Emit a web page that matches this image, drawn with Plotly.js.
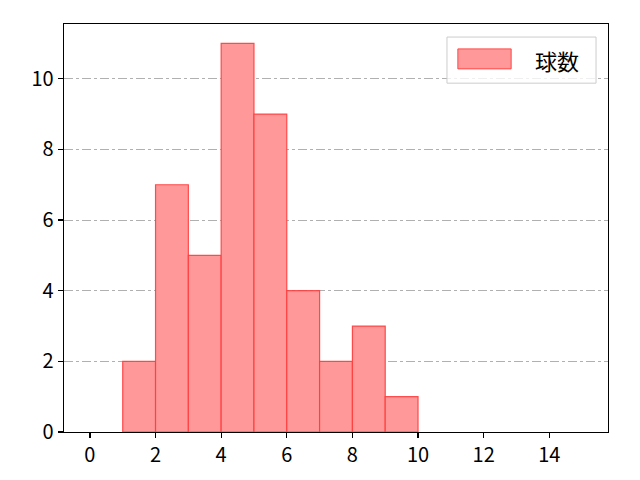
<!DOCTYPE html>
<html>
<head>
<meta charset="utf-8">
<script src="https://cdn.plot.ly/plotly-3.0.1.min.js"></script>
<style>
  html, body { margin: 0; padding: 0; background: #fff; }
  #plot { width: 640px; height: 480px; }
</style>
</head>
<body>
<div id="plot"></div>
<script>
// histogram bins (left edges) and counts
const binStarts = [1, 2, 3, 4, 5, 6, 7, 8, 9];
const counts = [2, 7, 5, 11, 9, 4, 2, 3, 1];
const seriesName = '球数';
const xTicks = [0, 2, 4, 6, 8, 10, 12, 14];
const yTicks = [0, 2, 4, 6, 8, 10];

const barFill = 'rgb(255, 153, 153)';
const barEdge = 'rgba(255, 60, 60, 0.9)';

const trace = {
  x: binStarts.map(b => b + 0.5),
  y: counts,
  width: binStarts.map(() => 1),
  type: 'bar',
  name: seriesName,
  marker: {
    color: barFill,
    line: { color: barEdge, width: 1.2 },
  },
  showlegend: false,
};

const axisFont = { family: 'Noto Sans CJK JP, sans-serif', size: 20, color: '#000' };

// matplotlib-style legend, drawn in plot-area coordinates
const legendShapes = [
  {
    type: 'rect', xref: 'paper', yref: 'paper', layer: 'above',
    x0: 0.704, x1: 0.978, y0: 0.855, y1: 0.968,
    fillcolor: 'rgba(255,255,255,0.8)',
    line: { color: '#cccccc', width: 1 },
  },
  {
    type: 'rect', xref: 'paper', yref: 'paper', layer: 'above',
    x0: 0.724, x1: 0.822, y0: 0.890, y1: 0.939,
    fillcolor: barFill,
    line: { color: barEdge, width: 1 },
  },
];

const legendText = [{
  text: seriesName,
  xref: 'paper', yref: 'paper',
  x: 0.862, y: 0.912,
  xanchor: 'left', yanchor: 'middle',
  showarrow: false,
  font: { family: 'Noto Sans CJK JP, sans-serif', size: 22, color: '#000' },
}];

const layout = {
  width: 640,
  height: 480,
  paper_bgcolor: '#fff',
  plot_bgcolor: '#fff',
  margin: { l: 64, r: 32, t: 24, b: 48 },
  bargap: 0,
  showlegend: false,
  xaxis: {
    range: [-0.79, 15.79],
    tickvals: xTicks,
    ticks: 'outside',
    ticklen: 5,
    tickwidth: 1.2,
    tickcolor: '#000',
    tickfont: axisFont,
    showgrid: false,
    zeroline: false,
    showline: true,
    linecolor: '#000',
    linewidth: 1.3,
    mirror: true,
  },
  yaxis: {
    range: [0, 11.55],
    tickvals: yTicks,
    ticks: 'outside',
    ticklen: 5,
    tickwidth: 1.2,
    tickcolor: '#000',
    tickfont: axisFont,
    showgrid: true,
    gridcolor: '#b0b0b0',
    griddash: 'dashdot',
    gridwidth: 1,
    zeroline: false,
    showline: true,
    linecolor: '#000',
    linewidth: 1.3,
    mirror: true,
    layer: 'above traces',
  },
  shapes: legendShapes,
  annotations: legendText,
};

const config = { displayModeBar: false, staticPlot: true };

Plotly.newPlot('plot', [trace], layout, config);
</script>
</body>
</html>
